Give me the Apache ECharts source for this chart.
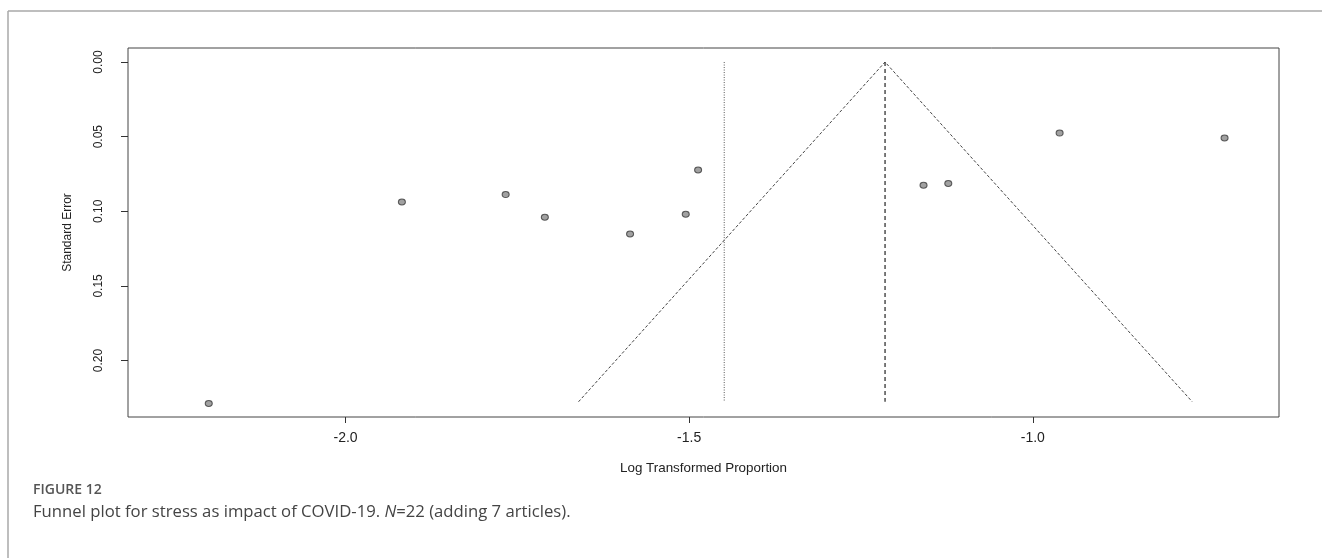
<!DOCTYPE html>
<html>
<head>
<meta charset="utf-8">
<script src="https://cdn.jsdelivr.net/npm/echarts@6/dist/echarts.min.js"></script>
<style>
  html, body { margin: 0; padding: 0; background: #fff; }
  #chart { width: 1322px; height: 558px; }
</style>
</head>
<body>
<div id="chart"></div>
<script>
// Study effects (log-transformed proportions) and their standard errors
const studyLogProp = [-2.199, -1.918, -1.767, -1.710, -1.586, -1.505, -1.487, -1.159, -1.123, -0.961, -0.721];
const studySE      = [0.2288, 0.0938, 0.0888, 0.1040, 0.1152, 0.1020, 0.0723, 0.0826, 0.0814, 0.0476, 0.0509];

// Pooled estimate (dashed reference) and the second reference line (dotted)
const pooledEstimate = -1.215;
const dottedEstimate = -1.449;
const refLineSE = [0, 0.2276];

// Pseudo 95% confidence funnel: left foot, apex, right foot
const funnelX  = [-1.661, -1.215, -0.768];
const funnelSE = [0.2276, 0, 0.2276];

// Axis ticks and ranges
const xTickValues = [-2.0, -1.5, -1.0];
const yTickValues = [0.00, 0.05, 0.10, 0.15, 0.20];
const xRange = [-2.3165, -0.6418];
const yRange = [-0.0094, 0.2378];

const plotFont = '"Liberation Sans", Arial, sans-serif';
const captionFont = '"Open Sans", "Noto Sans", sans-serif';

const chart = echarts.init(document.getElementById('chart'), null, { renderer: 'canvas' });

chart.setOption({
  animation: false,
  backgroundColor: '#ffffff',
  grid: {
    left: 128, top: 48, width: 1151, height: 369,
    show: true, borderColor: '#444', borderWidth: 1, backgroundColor: 'transparent'
  },
  xAxis: {
    type: 'value',
    min: xRange[0], max: xRange[1],
    name: 'Log Transformed Proportion',
    nameLocation: 'middle',
    nameGap: 45,
    nameTextStyle: { fontFamily: plotFont, fontSize: 13.4, color: '#222' },
    axisLine: { show: false, onZero: false },
    splitLine: { show: false },
    axisTick: { show: true, length: 6, inside: false, customValues: xTickValues, lineStyle: { color: '#333', width: 1 } },
    axisLabel: {
      customValues: xTickValues, margin: 14,
      fontFamily: plotFont, fontSize: 14, color: '#222',
      formatter: v => v.toFixed(1)
    }
  },
  yAxis: {
    type: 'value',
    inverse: true,
    min: yRange[0], max: yRange[1],
    name: 'Standard Error',
    nameLocation: 'middle',
    nameGap: 54,
    nameTextStyle: { fontFamily: plotFont, fontSize: 12, color: '#222' },
    axisLine: { show: false, onZero: false },
    splitLine: { show: false },
    axisTick: { show: true, length: 7, inside: false, customValues: yTickValues, lineStyle: { color: '#333', width: 1 } },
    axisLabel: {
      customValues: yTickValues, margin: 23, rotate: 90,
      fontFamily: plotFont, fontSize: 12, color: '#222',
      formatter: v => v.toFixed(2)
    }
  },
  series: [
    {
      name: 'funnel',
      type: 'line',
      data: funnelX.map((x, i) => [x, funnelSE[i]]),
      showSymbol: false, symbol: 'none',
      lineStyle: { color: '#444', width: 1, type: [3, 2] },
      silent: true, z: 2
    },
    {
      name: 'pooled',
      type: 'line',
      data: refLineSE.map(se => [pooledEstimate, se]),
      showSymbol: false, symbol: 'none',
      lineStyle: { color: '#333', width: 1.3, type: [4, 3] },
      silent: true, z: 2
    },
    {
      name: 'dotted',
      type: 'line',
      data: refLineSE.map(se => [dottedEstimate, se]),
      showSymbol: false, symbol: 'none',
      lineStyle: { color: '#555', width: 1, type: [1, 1.5] },
      silent: true, z: 2
    },
    {
      name: 'studies',
      type: 'scatter',
      data: studyLogProp.map((x, i) => [x, studySE[i]]),
      symbol: 'circle',
      symbolSize: [7, 6],
      itemStyle: { color: '#8a8a8a', borderColor: '#3a3a3a', borderWidth: 1 },
      z: 3
    }
  ],
  graphic: [
    { type: 'line', shape: { x1: 8, y1: 11, x2: 1322, y2: 11 }, style: { stroke: '#a8a8a8', lineWidth: 1.5 }, silent: true },
    { type: 'line', shape: { x1: 8, y1: 11, x2: 8, y2: 558 }, style: { stroke: '#a8a8a8', lineWidth: 1.5 }, silent: true },
    {
      type: 'text', left: 33, top: 483,
      style: { text: 'FIGURE 12', font: '600 14px ' + captionFont, fill: '#555' }
    },
    {
      type: 'text', left: 33, top: 504,
      style: {
        text: '{a|Funnel plot for stress as impact of COVID-19. }{i|N}{a|=22 (adding 7 articles).}',
        rich: {
          a: { fontFamily: captionFont, fontSize: 16.7, fill: '#444', color: '#444' },
          i: { fontFamily: captionFont, fontSize: 16.7, fontStyle: 'italic', fill: '#444', color: '#444' }
        }
      }
    }
  ]
});
</script>
</body>
</html>
